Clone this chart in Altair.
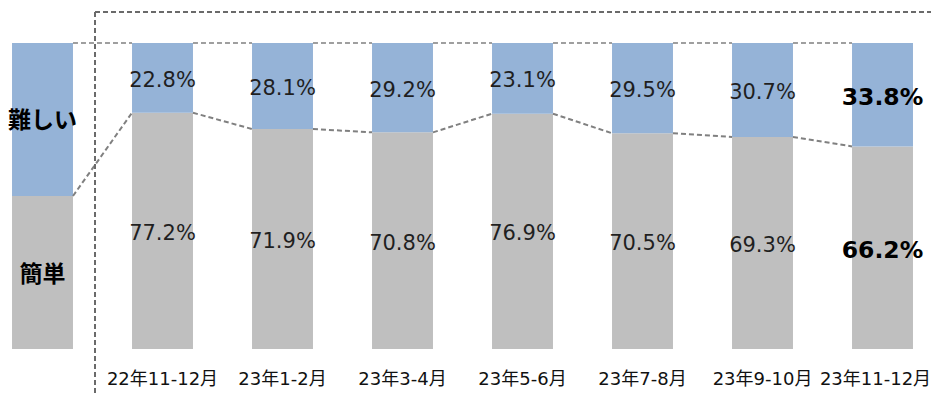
import altair as alt
import pandas as pd

# ---- data ----
categories = ["22年11-12月", "23年1-2月", "23年3-4月", "23年5-6月",
              "23年7-8月", "23年9-10月", "23年11-12月"]
hard = [22.8, 28.1, 29.2, 23.1, 29.5, 30.7, 33.8]   # 難しい
easy = [77.2, 71.9, 70.8, 76.9, 70.5, 69.3, 66.2]   # 簡単
legend_labels = ["難しい", "簡単"]
legend_split = 50.0

# ---- layout constants ----
W = 923
HW = 0.254            # half bar width in slot units
XDOM = [-0.2875, (W - 34.5) / 120]
YDOM = [-15.36, 111.44]
BOX_X = 0.4375
BOX_Y = 110.13
LABEL_Y = -10.13
BLUE = "#95B3D7"
GRAY = "#BFBFBF"
NUM_FONT = "'DejaVu Sans', 'Noto Sans CJK JP', sans-serif"
JP_FONT = "'Noto Sans CJK JP', sans-serif"

n = len(categories)
idx = list(range(1, n + 1))
last = idx[-1]

# bars (segments)
rows = []
for i, c, h, e in zip(idx, categories, hard, easy):
    rows.append(dict(idx=i, cat=c, seg="簡単", y0=0, y1=e, val=e,
                     x0=i - HW, x1=i + HW, lab=f"{e:.1f}%", ymid=e / 2))
    rows.append(dict(idx=i, cat=c, seg="難しい", y0=e, y1=e + h, val=h,
                     x0=i - HW, x1=i + HW, lab=f"{h:.1f}%", ymid=e + h / 2))
bars = pd.DataFrame(rows)

leg = pd.DataFrame([
    dict(idx=0, seg="難しい", y0=legend_split, y1=100, x0=-HW, x1=HW,
         lab=legend_labels[0], ymid=74.5),
    dict(idx=0, seg="簡単", y0=0, y1=legend_split, x0=-HW, x1=HW,
         lab=legend_labels[1], ymid=24.2),
])

# connectors
pts = [(0, legend_split)] + list(zip(idx, easy))
conn = []
top = []
for (ia, ya), (ib, yb) in zip(pts[:-1], pts[1:]):
    conn.append(dict(x=ia + HW, x2=ib - HW, y=ya, y2=yb))
    top.append(dict(x=ia + HW, x2=ib - HW, y=100, y2=100))
conn = pd.DataFrame(conn)
top = pd.DataFrame(top)

box = pd.DataFrame([
    dict(x=BOX_X, x2=BOX_X, y=BOX_Y, y2=YDOM[0]),
    dict(x=BOX_X, x2=XDOM[1], y=BOX_Y, y2=BOX_Y),
])

xlab = pd.DataFrame(dict(idx=idx, cat=categories, y=[LABEL_Y] * n))

xs = alt.Scale(domain=XDOM, nice=False, zero=False)
ys = alt.Scale(domain=YDOM, nice=False, zero=False)
color_scale = alt.Scale(domain=["難しい", "簡単"], range=[BLUE, GRAY])

def X(f):
    return alt.X(f, type="quantitative", scale=xs, axis=None)

def Y(f):
    return alt.Y(f, type="quantitative", scale=ys, axis=None)

bar_layer = alt.Chart(bars).mark_rect().encode(
    x=X("x0"), x2="x1", y=Y("y0"), y2="y1",
    color=alt.Color("seg:N", scale=color_scale, legend=None),
)
leg_layer = alt.Chart(leg).mark_rect().encode(
    x=X("x0"), x2="x1", y=Y("y0"), y2="y1",
    color=alt.Color("seg:N", scale=color_scale, legend=None),
)
conn_layer = alt.Chart(conn).mark_rule(
    color="#808080", strokeWidth=2, strokeDash=[5, 3]
).encode(x=X("x"), x2="x2", y=Y("y"), y2="y2")
top_layer = alt.Chart(top).mark_rule(
    color="#808080", strokeWidth=1.5, strokeDash=[5, 3]
).encode(x=X("x"), x2="x2", y=Y("y"), y2="y2")
box_layer = alt.Chart(box).mark_rule(
    color="#6A6A6A", strokeWidth=2, strokeDash=[5, 3]
).encode(x=X("x"), x2="x2", y=Y("y"), y2="y2")

val_text = alt.Chart(bars).transform_filter(f"datum.idx != {last}").mark_text(
    font=NUM_FONT, fontSize=21, color="#1F1F1F",
    baseline="middle", align="center", dy=3
).encode(x=X("idx"), y=Y("ymid"), text="lab:N")
val_text_last = alt.Chart(bars).transform_filter(f"datum.idx == {last}").mark_text(
    font=NUM_FONT, fontSize=23.5, fontWeight="bold", color="#000000",
    baseline="middle", align="center", dy=3
).encode(x=X("idx"), y=Y("ymid"), text="lab:N")
leg_text = alt.Chart(leg).mark_text(
    font=JP_FONT, fontSize=23, fontWeight="bold", color="#000000",
    baseline="middle", align="center"
).encode(x=X("idx"), y=Y("ymid"), text="lab:N")

x_text = alt.Chart(xlab).transform_filter(f"datum.idx != {last}").mark_text(
    font=NUM_FONT, fontSize=18, color="#111111", baseline="middle", align="center"
).encode(x=X("idx"), y=Y("y"), text="cat:N")
x_text_last = alt.Chart(xlab).transform_filter(f"datum.idx == {last}").mark_text(
    font=NUM_FONT, fontSize=18, color="#111111", baseline="middle", align="center",
    dx=-7
).encode(x=X("idx"), y=Y("y"), text="cat:N")

chart = alt.layer(
    bar_layer, leg_layer, conn_layer, top_layer, box_layer, val_text,
    val_text_last, leg_text, x_text, x_text_last
).properties(
    width=W, height=388, autosize=alt.AutoSizeParams(type="none"), padding=0
).configure_view(stroke=None)

chart.save("out.html", embed_options={"renderer": "svg", "actions": False})
